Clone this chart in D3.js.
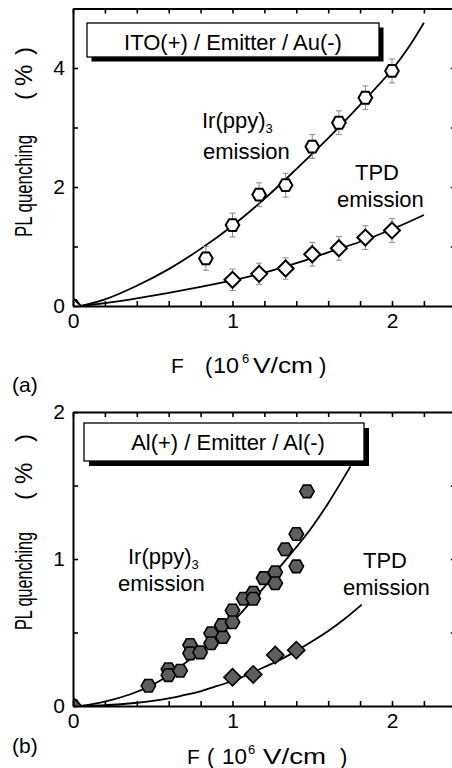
<!DOCTYPE html>
<html><head><meta charset="utf-8">
<script src="https://cdn.jsdelivr.net/npm/d3@7"></script>
<style>
body{margin:0;background:#fff}
svg{display:block}
text{font-family:"Liberation Sans",Arial,Helvetica,sans-serif;fill:#000}
</style>
</head><body>
<svg id="chart" width="452" height="768"></svg>
<script>
// ---------- Panel (a): ITO(+) / Emitter / Au(-) ----------
const aIrF    = [0, 0.833, 1.0, 1.167, 1.333, 1.5, 1.667, 1.833, 2.0];
const aIrQ    = [0, 0.80, 1.36, 1.87, 2.03, 2.68, 3.08, 3.50, 3.95];
const aIrErr  = [0, 0.20, 0.20, 0.20, 0.20, 0.20, 0.20, 0.20, 0.20];
const aTpdF   = [0, 1.0, 1.167, 1.333, 1.5, 1.667, 1.833, 2.0];
const aTpdQ   = [0, 0.44, 0.54, 0.63, 0.87, 0.97, 1.15, 1.27];
const aTpdErr = [0, 0.18, 0.18, 0.18, 0.20, 0.20, 0.20, 0.20];
const aIrFitF  = [0.05, 0.2, 0.4, 0.6, 0.8, 1.0, 1.2, 1.4, 1.6, 1.8, 2.0, 2.1, 2.2];
const aIrFitQ  = [0, 0.11, 0.34, 0.62, 0.96, 1.35, 1.8, 2.3, 2.82, 3.38, 3.97, 4.33, 4.76];
const aTpdFitF = [0.05, 0.2, 0.4, 0.6, 0.8, 1.0, 1.2, 1.4, 1.6, 1.8, 2.0, 2.2];
const aTpdFitQ = [0, 0.05, 0.13, 0.22, 0.32, 0.43, 0.56, 0.72, 0.9, 1.08, 1.29, 1.53];

// ---------- Panel (b): Al(+) / Emitter / Al(-) ----------
const bIrF  = [0, 0.473, 0.598, 0.598, 0.672, 0.734, 0.734, 0.797, 0.866, 0.866, 0.94, 0.933, 1.0, 1.0,
               1.07, 1.13, 1.13, 1.195, 1.268, 1.268, 1.33, 1.40, 1.40, 1.467];
const bIrQ  = [0, 0.138, 0.25, 0.21, 0.24, 0.415, 0.358, 0.365, 0.495, 0.427, 0.47, 0.55, 0.65, 0.57,
               0.73, 0.77, 0.73, 0.87, 0.91, 0.835, 1.066, 0.95, 1.17, 1.46];
const bTpdF = [0, 1.0, 1.13, 1.268, 1.40];
const bTpdQ = [0, 0.195, 0.215, 0.347, 0.38];
const bIrFitF  = [0.05, 0.2, 0.36, 0.5, 0.6, 0.7, 0.8, 0.9, 1.0, 1.1, 1.2, 1.3, 1.4, 1.5, 1.6, 1.74];
const bIrFitQ  = [0, 0.03, 0.08, 0.145, 0.21, 0.29, 0.37, 0.47, 0.57, 0.69, 0.81, 0.95, 1.08, 1.22, 1.38, 1.63];
const bTpdFitF = [0.05, 0.2, 0.3, 0.4, 0.5, 0.6, 0.7, 0.8, 0.9, 1.0, 1.1, 1.2, 1.3, 1.4, 1.5, 1.6, 1.7, 1.81];
const bTpdFitQ = [0, 0.005, 0.012, 0.022, 0.035, 0.052, 0.075, 0.10, 0.135, 0.17, 0.215, 0.265, 0.315, 0.375, 0.44, 0.51, 0.59, 0.69];

// ---------- Axis ticks ----------
const xMinorTicks = d3.range(0, 13).map(i => i / 5);   // 0 .. 2.4 step 0.2
const xLabelTicks = [0, 1, 2];
const aYTicks = [0, 1, 2, 3, 4, 5];
const aYLabels = [0, 2, 4];
const bYTicks = [0, 0.5, 1, 1.5, 2];
const bYLabels = [0, 1, 2];

const svg = d3.select("#chart");
const zip = (xs, ys, es) => xs.map((v, i) => ({f: v, q: ys[i], e: es ? es[i] : 0}));

function hexPath(r) {
  const pts = d3.range(6).map(k => [r * Math.cos(k * Math.PI / 3), r * Math.sin(k * Math.PI / 3)]);
  return "M" + pts.map(p => p.join(",")).join("L") + "Z";
}
function diamondPath(r) {
  return `M${-r},0L0,${-r}L${r},0L0,${r}Z`;
}

function drawPanel(cfg) {
  const x = d3.scaleLinear().domain([0, 2.4]).range([73, 455.8]);
  const y = d3.scaleLinear().domain(cfg.yDomain).range([cfg.bottom, cfg.top]);
  const g = svg.append("g");
  const clipId = "clip" + cfg.id;
  svg.append("clipPath").attr("id", clipId).append("rect")
    .attr("x", x(0)).attr("y", y(cfg.yDomain[1]))
    .attr("width", x(2.4) - x(0)).attr("height", y(0) - y(cfg.yDomain[1]));
  const plot = g.append("g").attr("clip-path", `url(#${clipId})`);

  const line = d3.line().x(d => x(d.f)).y(d => y(d.q)).curve(d3.curveCatmullRom.alpha(0.5));
  cfg.fits.forEach(ft => {
    plot.append("path").datum(zip(ft[0], ft[1]))
      .attr("d", line).attr("fill", "none").attr("stroke", "#000").attr("stroke-width", 1.8);
  });

  cfg.series.forEach(s => {
    const data = zip(s.f, s.q, s.e);
    if (s.e) {
      const eb = plot.append("g").attr("stroke", "#8a8a8a").attr("stroke-width", 1);
      data.filter(d => d.e > 0).forEach(d => {
        const cx = x(d.f), y1 = y(d.q + d.e), y2 = y(d.q - d.e);
        eb.append("line").attr("x1", cx).attr("x2", cx).attr("y1", y1).attr("y2", y2);
        eb.append("line").attr("x1", cx - 3).attr("x2", cx + 3).attr("y1", y1).attr("y2", y1);
        eb.append("line").attr("x1", cx - 3).attr("x2", cx + 3).attr("y1", y2).attr("y2", y2);
      });
    }
    plot.append("g").selectAll("path").data(data).join("path")
      .attr("transform", d => `translate(${x(d.f)},${y(d.q)})`)
      .attr("d", s.shape)
      .attr("fill", s.fill).attr("stroke", "#000").attr("stroke-width", s.sw);
  });

  // axes (ticks inward)
  const ax = g.append("g").attr("class", "axes");
  const bottomAxis = d3.axisBottom(x).tickValues(xMinorTicks).tickSizeInner(-5).tickSizeOuter(0)
    .tickPadding(7).tickFormat(d => xLabelTicks.some(v => Math.abs(v - d) < 1e-9) ? d3.format("d")(d) : "");
  ax.append("g").attr("transform", `translate(0,${cfg.bottom})`).call(bottomAxis);
  const topAxis = d3.axisTop(x).tickValues(xMinorTicks).tickSizeInner(-5).tickSizeOuter(0).tickFormat("");
  ax.append("g").attr("transform", `translate(0,${cfg.top})`).call(topAxis);
  const leftAxis = d3.axisLeft(y).tickValues(cfg.yTicks).tickSizeInner(-5).tickSizeOuter(0)
    .tickPadding(8).tickFormat(d => cfg.yLabels.includes(d) ? d3.format("d")(d) : "");
  ax.append("g").attr("transform", `translate(${x(0)},0)`).call(leftAxis);
  const rightAxis = d3.axisRight(y).tickValues(cfg.yTicks).tickSizeInner(-5).tickSizeOuter(0).tickFormat("");
  ax.append("g").attr("transform", `translate(${x(2.4)},0)`).call(rightAxis);
  ax.selectAll(".domain").attr("stroke", "#000").attr("stroke-width", 2);
  ax.selectAll(".tick line").attr("stroke", "#000").attr("stroke-width", 1.6);
  ax.selectAll(".tick text").attr("font-size", 21).attr("font-family", '"Liberation Sans",Arial,sans-serif').attr("fill", "#000");

  // legend box with shadow
  const L = cfg.legend;
  g.append("rect").attr("x", L.x + L.sh).attr("y", L.y + L.sh).attr("width", L.w).attr("height", L.h).attr("fill", "#000");
  g.append("rect").attr("x", L.x).attr("y", L.y).attr("width", L.w).attr("height", L.h)
    .attr("fill", "#fff").attr("stroke", "#000").attr("stroke-width", 1.3);
  g.append("text").attr("x", L.tx).attr("y", L.ty).attr("text-anchor", "middle")
    .attr("font-size", 22).text(L.text);

  // y-axis title (rotated)
  const yt = cfg.ytitle;
  g.append("text").attr("transform", `translate(${yt.bx},${yt.y1}) rotate(-90)`)
    .attr("font-size", 24).attr("textLength", yt.len1).attr("lengthAdjust", "spacingAndGlyphs").text("PL quenching");
  const pc = g.append("text").attr("transform", `translate(${yt.bx},${yt.y2}) rotate(-90)`).attr("font-size", 24);
  pc.append("tspan").attr("x", 0).text("(");
  pc.append("tspan").attr("x", yt.pct).text("%");
  pc.append("tspan").attr("x", yt.close).text(")");

  // x-axis title
  const xt = cfg.xtitle;
  const t = g.append("text").attr("y", xt.base).attr("font-size", 22);
  t.append("tspan").attr("x", xt.xs[0]).attr("font-size", 21).text("F");
  t.append("tspan").attr("x", xt.xs[1]).text("(");
  t.append("tspan").attr("x", xt.xs[2]).attr("textLength", xt.l10).attr("lengthAdjust", "spacingAndGlyphs").text("10");
  t.append("tspan").attr("x", xt.xs[3]).attr("dy", -10).attr("font-size", 13).text("6");
  t.append("tspan").attr("x", xt.xs[4]).attr("dy", 10).attr("textLength", xt.lv).attr("lengthAdjust", "spacingAndGlyphs").text("V/cm");
  t.append("tspan").attr("x", xt.xs[5]).text(")");

  g.append("text").attr("x", 12).attr("y", cfg.panelLabel.y).attr("font-size", 21).text(cfg.panelLabel.text);

  // annotations
  const ir = cfg.irLabel;
  const it = g.append("text").attr("x", ir.x).attr("y", ir.y).attr("font-size", 22);
  it.append("tspan").text("Ir(ppy)");
  it.append("tspan").attr("dy", ir.sub).attr("font-size", 13).text("3");
  g.append("text").attr("x", ir.ex).attr("y", ir.ey).attr("font-size", 22).text("emission");
  const tp = cfg.tpdLabel;
  g.append("text").attr("x", tp.x).attr("y", tp.y).attr("font-size", 22).text("TPD");
  g.append("text").attr("x", tp.ex).attr("y", tp.ey).attr("font-size", 22).text("emission");
}

drawPanel({
  id: "a", yDomain: [0, 5], top: 8.5, bottom: 306,
  yTicks: aYTicks, yLabels: aYLabels,
  fits: [[aIrFitF, aIrFitQ], [aTpdFitF, aTpdFitQ]],
  series: [
    {f: aIrF, q: aIrQ, e: aIrErr, shape: hexPath(6.8), fill: "#fff", sw: 2},
    {f: aTpdF, q: aTpdQ, e: aTpdErr, shape: diamondPath(8), fill: "#fff", sw: 2}
  ],
  legend: {x: 87, y: 23, w: 292, h: 34, sh: 4.5, tx: 233, ty: 50, text: "ITO(+) / Emitter / Au(-)"},
  ytitle: {bx: 32, y1: 237, len1: 102, y2: 100, pct: 14, close: 45},
  xtitle: {base: 373, xs: [171, 205, 213, 242, 253, 319], l10: 26, lv: 60},
  panelLabel: {y: 392, text: "(a)"},
  irLabel: {x: 202, y: 128, sub: 5, ex: 203, ey: 159},
  tpdLabel: {x: 355, y: 180, ex: 337, ey: 207}
});

drawPanel({
  id: "b", yDomain: [0, 2], top: 412, bottom: 706,
  yTicks: bYTicks, yLabels: bYLabels,
  fits: [[bIrFitF, bIrFitQ], [bTpdFitF, bTpdFitQ]],
  series: [
    {f: bIrF, q: bIrQ, e: null, shape: hexPath(7.2), fill: "#5e5e5e", sw: 1.6},
    {f: bTpdF, q: bTpdQ, e: null, shape: diamondPath(8.6), fill: "#5e5e5e", sw: 1.6}
  ],
  legend: {x: 84, y: 423, w: 280, h: 38, sh: 5, tx: 228, ty: 450, text: "Al(+) / Emitter / Al(-)"},
  ytitle: {bx: 32, y1: 630, len1: 98, y2: 500, pct: 16, close: 58},
  xtitle: {base: 764, xs: [187, 207, 222, 248, 263, 340], l10: 25, lv: 63},
  panelLabel: {y: 753, text: "(b)"},
  irLabel: {x: 128, y: 564, sub: 5, ex: 118, ey: 591},
  tpdLabel: {x: 363, y: 568, ex: 343, ey: 595}
});
</script>
</body></html>
